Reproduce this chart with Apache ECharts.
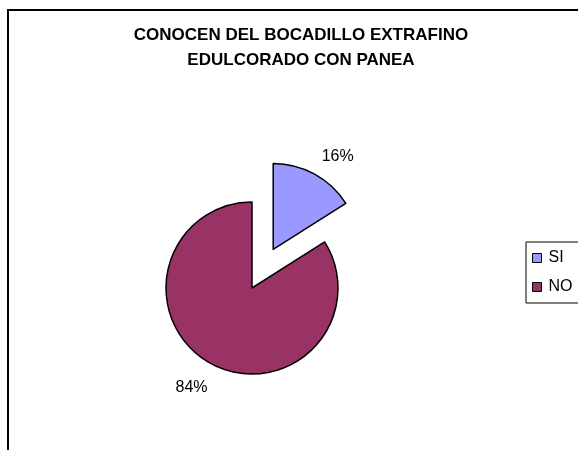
<!DOCTYPE html>
<html>
<head>
<meta charset="utf-8">
<script src="https://cdn.jsdelivr.net/npm/echarts@6/dist/echarts.min.js"></script>
<style>
html,body{margin:0;padding:0;background:#fff;}
#chart{width:578px;height:450px;}
</style>
</head>
<body>
<div id="chart"></div>
<script>
const categories = ['SI', 'NO'];
const values = [16, 84];
const colors = ['#9999FF', '#993366'];
const titleText = 'CONOCEN DEL BOCADILLO EXTRAFINO\nEDULCORADO CON PANEA';

const FONT = "Arial, 'Liberation Sans', sans-serif";
const chart = echarts.init(document.getElementById('chart'), null, {renderer: 'canvas'});
chart.setOption({
  animation: false,
  backgroundColor: '#fff',
  graphic: [{
    type: 'rect',
    shape: {x: 8, y: 10, width: 700, height: 600},
    style: {fill: 'none', stroke: '#000', lineWidth: 2},
    silent: true
  }],
  title: {
    text: titleText,
    left: 296,
    top: 18,
    textAlign: 'center',
    textStyle: {fontFamily: FONT, fontSize: 17, fontWeight: 'bold', color: '#000', lineHeight: 25}
  },
  legend: {
    orient: 'vertical',
    left: 526,
    top: 242,
    width: 50,
    padding: [8, 6, 8, 6],
    itemWidth: 9,
    itemHeight: 9,
    itemGap: 13,
    borderColor: '#000',
    borderWidth: 1,
    selectedMode: false,
    icon: 'rect',
    textStyle: {fontFamily: FONT, fontSize: 16, color: '#000', padding: [0, 0, 0, 2]},
    itemStyle: {borderColor: '#000', borderWidth: 1},
    data: categories
  },
  series: [{
    type: 'pie',
    center: [252, 288],
    radius: 86,
    startAngle: 90,
    clockwise: true,
    selectedMode: 'single',
    selectedOffset: 44,
    silent: true,
    emphasis: {disabled: true},
    itemStyle: {borderColor: '#000', borderWidth: 1.5},
    label: {
      show: true,
      position: 'outside',
      formatter: '{c}%',
      fontFamily: FONT,
      fontSize: 16,
      color: '#000'
    },
    labelLine: {show: false, length: 25, length2: 0},
    labelLayout: function (p) {
      return p.dataIndex === 0 ? {align: 'center', dx: 6, dy: 4} : {align: 'center', dx: -2, dy: 2};
    },
    data: categories.map((c, i) => ({
      name: c,
      value: values[i],
      selected: i === 0,
      itemStyle: {color: colors[i]}
    }))
  }]
});
</script>
</body>
</html>
